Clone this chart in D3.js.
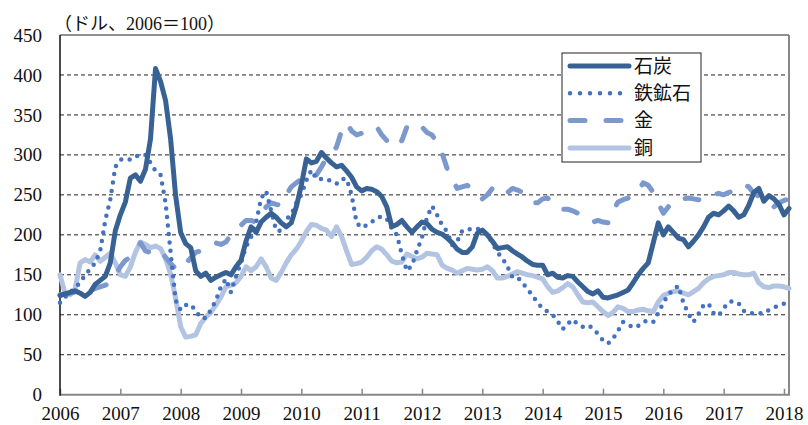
<!DOCTYPE html>
<html>
<head>
<meta charset="utf-8">
<script src="https://cdn.jsdelivr.net/npm/d3@7"></script>
<style>
  body { margin: 0; background: #fff; }
  svg { display: block; }
  text { font-family: 'Liberation Serif', 'Times New Roman', 'Noto Sans CJK JP', serif; fill: #111; }
</style>
</head>
<body>
<script>
// monthly series, 146 points each (index 0 = first month on the axis)
let years = ['2006','2007','2008','2009','2010','2011','2012','2013','2014','2015','2016','2017','2018']
let yTicks = [0, 50, 100, 150, 200, 250, 300, 350, 400, 450]
let names = ['石炭', '鉄鉱石', '金', '銅']

let coal = [124,126,128,130,127,123,128,138,143,148,165,205,
  225,241,271,275,267,282,320,408,392,368,320,249,
  203,189,184,155,148,152,143,147,150,153,150,160,
  168,192,210,203,216,222,227,222,215,210,215,235,
  262,295,290,292,303,296,290,285,287,280,272,260,
  255,258,257,254,248,235,210,213,218,210,203,210,
  216,214,207,203,201,196,190,182,178,178,185,202,
  206,200,192,183,184,185,180,176,172,167,163,162,
  162,150,152,147,146,149,148,141,135,129,126,130,
  122,121,123,125,128,131,140,150,158,165,190,215,
  200,210,203,196,194,185,192,200,210,222,227,225,
  230,236,230,222,225,237,253,258,242,249,245,238,
  225,233]

let ironOre = [115,122,128,134,140,150,157,165,180,218,244,285,
  294,295,294,298,300,300,290,280,275,240,178,118,
  106,112,113,105,96,96,106,118,135,145,128,148,
  165,185,197,215,246,255,230,205,205,220,225,240,
  250,268,281,270,270,270,267,264,270,270,250,215,
  209,212,216,221,223,220,208,200,175,155,162,180,
  197,222,236,225,212,204,187,192,205,207,207,208,
  204,200,190,178,171,160,147,147,140,132,124,115,
  108,104,100,92,82,89,94,88,85,87,83,76,
  68,64,70,80,91,88,84,86,91,93,91,102,
  115,125,132,136,115,101,91,101,112,114,102,99,
  108,116,117,114,105,102,102,102,102,106,109,112,
  114,115]

let gold = [125,126,127,128,128,127,130,133,135,137,140,150,
  160,168,172,180,190,180,178,182,180,172,164,158,
  156,164,171,178,180,183,185,190,188,191,200,208,
  212,218,218,216,225,235,240,238,237,250,260,265,
  270,268,270,275,285,296,300,310,330,340,330,325,
  327,328,330,335,325,318,315,310,318,335,340,338,
  335,328,325,315,302,283,270,258,260,262,258,255,
  245,250,258,262,258,253,258,256,253,248,240,240,
  245,246,240,233,232,232,230,227,222,218,216,218,
  216,215,230,241,244,246,248,255,265,262,253,240,
  227,235,243,245,245,246,245,244,243,248,250,252,
  250,253,255,258,263,260,252,248,245,240,235,240,
  243,245]

let copper = [150,127,125,132,165,169,166,175,167,172,177,165,
  150,148,160,178,191,188,184,186,183,170,151,121,
  85,72,73,75,89,97,103,112,122,135,137,140,
  148,160,155,160,170,160,146,143,153,165,175,182,
  192,204,213,212,208,206,198,210,198,180,163,164,
  166,172,180,185,182,175,167,165,166,176,173,170,
  172,177,176,175,162,158,156,152,155,158,157,156,
  157,160,155,146,146,148,151,154,152,150,149,147,
  145,135,128,130,134,139,135,125,116,115,116,110,
  104,99,103,110,108,104,104,106,107,105,104,116,
  124,127,129,130,127,125,129,133,140,145,148,149,
  150,153,153,151,150,150,152,140,135,134,136,136,
  135,133]

let width = 808
let height = 425
let plotL = 60, plotR = 789, plotT = 35, plotB = 394.7

let x = d3.scaleLinear().domain([0, coal.length - 1]).range([plotL, plotR])
let y = d3.scaleLinear().domain([0, 450]).range([plotB, plotT])

let styles = [
  { data: coal,    color: '#386294', dash: null,    width: 5 },
  { data: ironOre, color: '#4472c0', dash: '0,8.5', width: 4.5 },
  { data: gold,    color: '#7b99cd', dash: '14,20', width: 5 },
  { data: copper,  color: '#b2c4e1', dash: null,    width: 5 }
]

let svg = d3.select('body').append('svg')
    .attr('width', width)
    .attr('height', height)

// gridlines
svg.append('g')
  .selectAll('line')
  .data(yTicks.filter(d => d > 0 && d < 450))
  .enter().append('line')
    .attr('x1', plotL).attr('x2', plotR)
    .attr('y1', d => y(d)).attr('y2', d => y(d))
    .attr('stroke', '#222')
    .attr('stroke-width', 1)
    .attr('stroke-dasharray', '4,3')

// y axis labels
let yAxis = svg.append('g')
    .attr('transform', 'translate(' + plotL + ',0)')
    .call(d3.axisLeft(y).tickValues(yTicks).tickSize(0).tickPadding(18))
yAxis.select('.domain').remove()
yAxis.selectAll('text').style('font-size', '19px').attr('fill', '#111')

// x axis
let xAxis = svg.append('g')
    .attr('transform', 'translate(0,' + plotB + ')')
    .call(d3.axisBottom(x)
      .tickValues(years.map((d, i) => i * 12))
      .tickFormat((d, i) => years[i])
      .tickSize(-6)
      .tickPadding(12))
xAxis.select('.domain').remove()
xAxis.selectAll('line').attr('stroke', '#888').attr('stroke-width', 1.5)
xAxis.selectAll('text').style('font-size', '19px').attr('fill', '#111')

// frame
svg.append('line').attr('x1', plotL).attr('x2', plotR).attr('y1', plotT).attr('y2', plotT)
    .attr('stroke', '#222').attr('stroke-width', 1)
svg.append('line').attr('x1', plotR).attr('x2', plotR).attr('y1', plotT).attr('y2', plotB)
    .attr('stroke', '#888').attr('stroke-width', 2)
svg.append('line').attr('x1', plotL).attr('x2', plotR + 1).attr('y1', plotB).attr('y2', plotB)
    .attr('stroke', '#888').attr('stroke-width', 2)
svg.append('line').attr('x1', plotL).attr('x2', plotL).attr('y1', plotT).attr('y2', plotB + 1)
    .attr('stroke', '#111').attr('stroke-width', 1.5)

// series, drawn copper first so coal ends up on top
let line = d3.line().x((d, i) => x(i)).y(d => y(d))

styles.slice().reverse().forEach(s => {
  svg.append('path')
    .datum(s.data)
    .attr('d', line)
    .attr('fill', 'none')
    .attr('stroke', s.color)
    .attr('stroke-width', s.width)
    .attr('stroke-linejoin', 'round')
    .attr('stroke-linecap', 'round')
    .attr('stroke-dasharray', s.dash)
})

// unit label
svg.append('text')
    .attr('x', 54)
    .attr('y', 30)
    .style('font-size', '18px')
    .text('（ドル、2006＝100）')

// legend
let legend = svg.append('g').attr('transform', 'translate(562,53)')
legend.append('rect')
    .attr('width', 139).attr('height', 109)
    .attr('fill', '#fff').attr('stroke', '#222').attr('stroke-width', 1)

let items = legend.selectAll('.item')
    .data(styles)
    .enter().append('g')
    .attr('class', 'item')
    .attr('transform', (d, i) => 'translate(0,' + (13 + i * 27.3) + ')')

items.append('line')
    .attr('x1', 8).attr('x2', 67)
    .attr('stroke', d => d.color)
    .attr('stroke-width', d => d.width)
    .attr('stroke-linecap', 'round')
    .attr('stroke-dasharray', (d, i) => i === 1 ? '0,10' : (i === 2 ? '15,21' : null))

items.append('text')
    .attr('x', 72)
    .attr('dy', '0.36em')
    .style('font-size', '19px')
    .text((d, i) => names[i])
</script>
</body>
</html>
